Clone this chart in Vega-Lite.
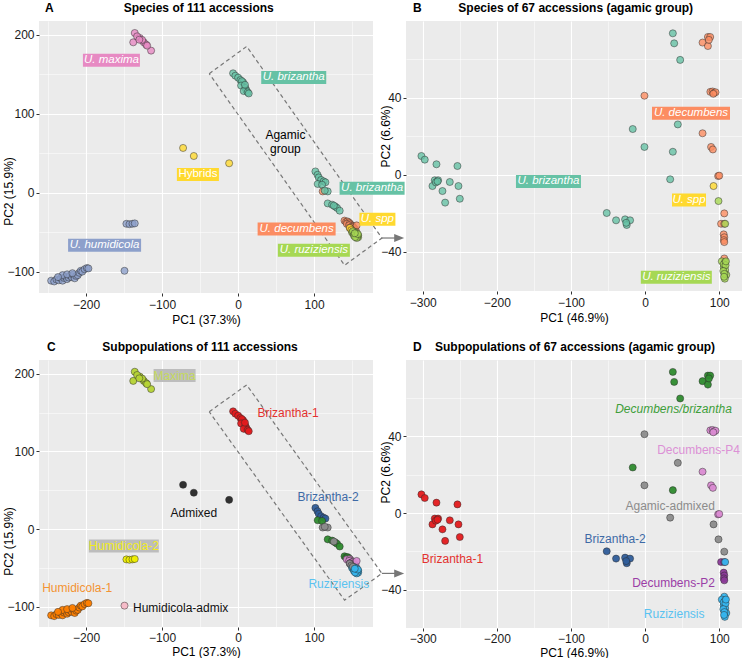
{
  "$schema": "https://vega.github.io/schema/vega-lite/v6.json",
  "padding": {"left": 2, "top": 2, "right": 0, "bottom": 0},
  "bounds": "flush",
  "columns": 2,
  "spacing": {"row": 67, "column": 33},
  "config": {
    "font": "Liberation Sans",
    "view": {"fill": "#EBEBEB", "stroke": null},
    "axis": {"domain": false, "tickColor": "#333333", "tickSize": 3, "tickWidth": 1, "gridColor": "#FFFFFF", "labelFontSize": 12, "labelColor": "#1a1a1a", "titleFontSize": 12, "titleFontWeight": "normal", "titleColor": "#000000", "labelFont": "Liberation Sans", "titleFont": "Liberation Sans", "labelOverlap": false, "labelFlush": false},
    "title": {"fontSize": 12, "fontWeight": "bold", "font": "Liberation Sans", "anchor": "start", "frame": "group", "offset": 6, "color": "#000000"},
    "text": {"font": "Liberation Sans"}
  },
  "datasets": {
    "full": [
      {"x": -136, "y": 202.5, "sp": "U. maxima", "sub": "Maxima"},
      {"x": -138, "y": 190.7, "sp": "U. maxima", "sub": "Maxima"},
      {"x": -129.4, "y": 196.2, "sp": "U. maxima", "sub": "Maxima"},
      {"x": -124.1, "y": 190.7, "sp": "U. maxima", "sub": "Maxima"},
      {"x": -121, "y": 187.8, "sp": "U. maxima", "sub": "Maxima"},
      {"x": -114.5, "y": 180.2, "sp": "U. maxima", "sub": "Maxima"},
      {"x": -132.9, "y": 198.3, "sp": "U. maxima", "sub": "Maxima"},
      {"x": -126.3, "y": 193.7, "sp": "U. maxima", "sub": "Maxima"},
      {"x": -119.7, "y": 186.5, "sp": "U. maxima", "sub": "Maxima"},
      {"x": -130, "y": 194, "sp": "U. maxima", "sub": "Maxima"},
      {"x": -246, "y": -111, "sp": "U. humidicola", "sub": "Humidicola-1"},
      {"x": -242, "y": -112, "sp": "U. humidicola", "sub": "Humidicola-1"},
      {"x": -239, "y": -109.5, "sp": "U. humidicola", "sub": "Humidicola-1"},
      {"x": -236, "y": -110.5, "sp": "U. humidicola", "sub": "Humidicola-1"},
      {"x": -233, "y": -108, "sp": "U. humidicola", "sub": "Humidicola-1"},
      {"x": -231, "y": -111, "sp": "U. humidicola", "sub": "Humidicola-1"},
      {"x": -229, "y": -107.5, "sp": "U. humidicola", "sub": "Humidicola-1"},
      {"x": -227, "y": -106, "sp": "U. humidicola", "sub": "Humidicola-1"},
      {"x": -225, "y": -109, "sp": "U. humidicola", "sub": "Humidicola-1"},
      {"x": -223, "y": -107, "sp": "U. humidicola", "sub": "Humidicola-1"},
      {"x": -221, "y": -104.5, "sp": "U. humidicola", "sub": "Humidicola-1"},
      {"x": -219, "y": -106.5, "sp": "U. humidicola", "sub": "Humidicola-1"},
      {"x": -217, "y": -103.5, "sp": "U. humidicola", "sub": "Humidicola-1"},
      {"x": -215, "y": -108, "sp": "U. humidicola", "sub": "Humidicola-1"},
      {"x": -213, "y": -105, "sp": "U. humidicola", "sub": "Humidicola-1"},
      {"x": -211, "y": -104, "sp": "U. humidicola", "sub": "Humidicola-1"},
      {"x": -209, "y": -101, "sp": "U. humidicola", "sub": "Humidicola-1"},
      {"x": -207, "y": -98.5, "sp": "U. humidicola", "sub": "Humidicola-1"},
      {"x": -205, "y": -99.5, "sp": "U. humidicola", "sub": "Humidicola-1"},
      {"x": -202, "y": -96.5, "sp": "U. humidicola", "sub": "Humidicola-1"},
      {"x": -199, "y": -95, "sp": "U. humidicola", "sub": "Humidicola-1"},
      {"x": -197, "y": -95.5, "sp": "U. humidicola", "sub": "Humidicola-1"},
      {"x": -231, "y": -104, "sp": "U. humidicola", "sub": "Humidicola-1"},
      {"x": -237, "y": -106.5, "sp": "U. humidicola", "sub": "Humidicola-1"},
      {"x": -225, "y": -103, "sp": "U. humidicola", "sub": "Humidicola-1"},
      {"x": -218, "y": -101.5, "sp": "U. humidicola", "sub": "Humidicola-1"},
      {"x": -147, "y": -39, "sp": "U. humidicola", "sub": "Humidicola-2"},
      {"x": -143, "y": -39.5, "sp": "U. humidicola", "sub": "Humidicola-2"},
      {"x": -139, "y": -39, "sp": "U. humidicola", "sub": "Humidicola-2"},
      {"x": -136, "y": -38.5, "sp": "U. humidicola", "sub": "Humidicola-2"},
      {"x": -149.5, "y": -98.5, "sp": "U. humidicola", "sub": "Humidicola-admix"},
      {"x": -72.4, "y": 57, "sp": "Hybrids", "sub": "Admixed"},
      {"x": -58.3, "y": 46.8, "sp": "Hybrids", "sub": "Admixed"},
      {"x": -11.8, "y": 37.6, "sp": "Hybrids", "sub": "Admixed"},
      {"x": -6.6, "y": 151.5, "sp": "U. brizantha", "sub": "Brizantha-1"},
      {"x": -3.6, "y": 148.5, "sp": "U. brizantha", "sub": "Brizantha-1"},
      {"x": 0, "y": 146, "sp": "U. brizantha", "sub": "Brizantha-1"},
      {"x": 3, "y": 143, "sp": "U. brizantha", "sub": "Brizantha-1"},
      {"x": 6.6, "y": 140, "sp": "U. brizantha", "sub": "Brizantha-1"},
      {"x": 5, "y": 141.5, "sp": "U. brizantha", "sub": "Brizantha-1"},
      {"x": 3.9, "y": 136, "sp": "U. brizantha", "sub": "Brizantha-1"},
      {"x": 9.6, "y": 133, "sp": "U. brizantha", "sub": "Brizantha-1"},
      {"x": 10.9, "y": 130, "sp": "U. brizantha", "sub": "Brizantha-1"},
      {"x": 7.4, "y": 129, "sp": "U. brizantha", "sub": "Brizantha-1"},
      {"x": 12.6, "y": 127.5, "sp": "U. brizantha", "sub": "Brizantha-1"},
      {"x": 14, "y": 126, "sp": "U. brizantha", "sub": "Brizantha-1"},
      {"x": 9, "y": 137, "sp": "U. brizantha", "sub": "Brizantha-1"},
      {"x": 101.7, "y": 27.3, "sp": "U. brizantha", "sub": "Brizantha-2"},
      {"x": 104.5, "y": 23, "sp": "U. brizantha", "sub": "Brizantha-2"},
      {"x": 106.1, "y": 19.7, "sp": "U. brizantha", "sub": "Brizantha-2"},
      {"x": 109.2, "y": 16.5, "sp": "U. brizantha", "sub": "Brizantha-2"},
      {"x": 112.6, "y": 14.7, "sp": "U. brizantha", "sub": "Brizantha-2"},
      {"x": 114.9, "y": 13.5, "sp": "U. brizantha", "sub": "Brizantha-2"},
      {"x": 104.7, "y": 11.4, "sp": "U. brizantha", "sub": "Decumbens/brizantha"},
      {"x": 110.5, "y": 10.5, "sp": "U. brizantha", "sub": "Decumbens/brizantha"},
      {"x": 111.3, "y": 2, "sp": "U. decumbens", "sub": "Agamic-admixed"},
      {"x": 117.9, "y": 2, "sp": "U. brizantha", "sub": "Agamic-admixed"},
      {"x": 114, "y": 3, "sp": "U. brizantha", "sub": "Agamic-admixed"},
      {"x": 117.9, "y": -13.2, "sp": "U. brizantha", "sub": "Decumbens/brizantha"},
      {"x": 123.7, "y": -14.8, "sp": "U. brizantha", "sub": "Decumbens/brizantha"},
      {"x": 128, "y": -17.3, "sp": "U. brizantha", "sub": "Decumbens/brizantha"},
      {"x": 130.3, "y": -19, "sp": "U. brizantha", "sub": "Decumbens/brizantha"},
      {"x": 133.7, "y": -22.4, "sp": "U. brizantha", "sub": "Decumbens/brizantha"},
      {"x": 126, "y": -16, "sp": "U. brizantha", "sub": "Agamic-admixed"},
      {"x": 140, "y": -35, "sp": "U. decumbens", "sub": "Decumbens/brizantha"},
      {"x": 142, "y": -36.5, "sp": "U. decumbens", "sub": "Decumbens/brizantha"},
      {"x": 144, "y": -36, "sp": "U. decumbens", "sub": "Decumbens/brizantha"},
      {"x": 145.6, "y": -37.2, "sp": "U. decumbens", "sub": "Decumbens/brizantha"},
      {"x": 143, "y": -39, "sp": "U. decumbens", "sub": "Decumbens-P4"},
      {"x": 147, "y": -38.5, "sp": "U. decumbens", "sub": "Decumbens-P4"},
      {"x": 148, "y": -40, "sp": "U. decumbens", "sub": "Decumbens-P4"},
      {"x": 150, "y": -41.4, "sp": "U. decumbens", "sub": "Agamic-admixed"},
      {"x": 146, "y": -41, "sp": "U. decumbens", "sub": "Decumbens-P4"},
      {"x": 151, "y": -42.5, "sp": "U. decumbens", "sub": "Decumbens-P4"},
      {"x": 152, "y": -44, "sp": "U. decumbens", "sub": "Decumbens-P4"},
      {"x": 149, "y": -43, "sp": "U. decumbens", "sub": "Decumbens-P4"},
      {"x": 153, "y": -45, "sp": "U. decumbens", "sub": "Decumbens-P2"},
      {"x": 154, "y": -46.5, "sp": "U. decumbens", "sub": "Decumbens-P2"},
      {"x": 150, "y": -46, "sp": "U. decumbens", "sub": "Decumbens-P2"},
      {"x": 147, "y": -44, "sp": "U. decumbens", "sub": "Decumbens-P2"},
      {"x": 155, "y": -48, "sp": "U. decumbens", "sub": "Decumbens-P4"},
      {"x": 152, "y": -48, "sp": "U. decumbens", "sub": "Decumbens-P2"},
      {"x": 156, "y": -41, "sp": "U. decumbens", "sub": "Decumbens-P4"},
      {"x": 146.9, "y": -44.3, "sp": "U. spp", "sub": "Agamic-admixed"},
      {"x": 149, "y": -47, "sp": "U. spp", "sub": "Agamic-admixed"},
      {"x": 150, "y": -50, "sp": "U. ruziziensis", "sub": "Ruziziensis"},
      {"x": 152, "y": -51.9, "sp": "U. ruziziensis", "sub": "Ruziziensis"},
      {"x": 154, "y": -53, "sp": "U. ruziziensis", "sub": "Ruziziensis"},
      {"x": 156.6, "y": -55.3, "sp": "U. ruziziensis", "sub": "Ruziziensis"},
      {"x": 155, "y": -52, "sp": "U. ruziziensis", "sub": "Ruziziensis"},
      {"x": 158, "y": -56, "sp": "U. ruziziensis", "sub": "Ruziziensis"},
      {"x": 153, "y": -49, "sp": "U. ruziziensis", "sub": "Ruziziensis"},
      {"x": 157, "y": -54, "sp": "U. ruziziensis", "sub": "Ruziziensis"},
      {"x": 151, "y": -48.5, "sp": "U. ruziziensis", "sub": "Agamic-admixed"},
      {"x": 155.5, "y": -50.5, "sp": "U. ruziziensis", "sub": "Ruziziensis"},
      {"x": 158, "y": -53.5, "sp": "U. ruziziensis", "sub": "Ruziziensis"},
      {"x": 152.5, "y": -54, "sp": "U. ruziziensis", "sub": "Ruziziensis"},
      {"x": 156, "y": -57, "sp": "U. ruziziensis", "sub": "Ruziziensis"},
      {"x": 154, "y": -55.8, "sp": "U. ruziziensis", "sub": "Ruziziensis"},
      {"x": 157.5, "y": -52, "sp": "U. ruziziensis", "sub": "Ruziziensis"},
      {"x": 153.5, "y": -51, "sp": "U. ruziziensis", "sub": "Ruziziensis"}
    ],
    "agamic": [
      {"x": -301.8, "y": 9.7, "sp": "U. brizantha", "sub": "Brizantha-1"},
      {"x": -297.3, "y": 7.8, "sp": "U. brizantha", "sub": "Brizantha-1"},
      {"x": -281.5, "y": 5.4, "sp": "U. brizantha", "sub": "Brizantha-1"},
      {"x": -253.2, "y": 4.5, "sp": "U. brizantha", "sub": "Brizantha-1"},
      {"x": -283.8, "y": -2.9, "sp": "U. brizantha", "sub": "Brizantha-1"},
      {"x": -279.3, "y": -2.9, "sp": "U. brizantha", "sub": "Brizantha-1"},
      {"x": -286.9, "y": -5.9, "sp": "U. brizantha", "sub": "Brizantha-1"},
      {"x": -263.5, "y": -3.8, "sp": "U. brizantha", "sub": "Brizantha-1"},
      {"x": -251.8, "y": -5.9, "sp": "U. brizantha", "sub": "Brizantha-1"},
      {"x": -273.4, "y": -8.5, "sp": "U. brizantha", "sub": "Brizantha-1"},
      {"x": -269.8, "y": -14.5, "sp": "U. brizantha", "sub": "Brizantha-1"},
      {"x": -250, "y": -12.5, "sp": "U. brizantha", "sub": "Brizantha-1"},
      {"x": -282.4, "y": -4, "sp": "U. brizantha", "sub": "Brizantha-1"},
      {"x": -280, "y": -3.5, "sp": "U. brizantha", "sub": "Brizantha-1"},
      {"x": -51.8, "y": -19.9, "sp": "U. brizantha", "sub": "Brizantha-2"},
      {"x": -39.2, "y": -23.7, "sp": "U. brizantha", "sub": "Brizantha-2"},
      {"x": -27, "y": -23.2, "sp": "U. brizantha", "sub": "Brizantha-2"},
      {"x": -20.3, "y": -23.7, "sp": "U. brizantha", "sub": "Brizantha-2"},
      {"x": -24.8, "y": -26.1, "sp": "U. brizantha", "sub": "Brizantha-2"},
      {"x": -25.5, "y": -25, "sp": "U. brizantha", "sub": "Brizantha-2"},
      {"x": 37.4, "y": 73.4, "sp": "U. brizantha", "sub": "Decumbens/brizantha"},
      {"x": 39.2, "y": 68.2, "sp": "U. brizantha", "sub": "Decumbens/brizantha"},
      {"x": 47.3, "y": 59.6, "sp": "U. brizantha", "sub": "Decumbens/brizantha"},
      {"x": -16.7, "y": 23.7, "sp": "U. brizantha", "sub": "Decumbens/brizantha"},
      {"x": 37.4, "y": 11.9, "sp": "U. brizantha", "sub": "Decumbens/brizantha"},
      {"x": 84.7, "y": 71.5, "sp": "U. decumbens", "sub": "Decumbens/brizantha"},
      {"x": 87.8, "y": 71.5, "sp": "U. decumbens", "sub": "Decumbens/brizantha"},
      {"x": 77.5, "y": 68.6, "sp": "U. decumbens", "sub": "Decumbens/brizantha"},
      {"x": 84.7, "y": 66.8, "sp": "U. decumbens", "sub": "Decumbens/brizantha"},
      {"x": 86, "y": 70, "sp": "U. decumbens", "sub": "Decumbens/brizantha"},
      {"x": -0.9, "y": 14.4, "sp": "U. brizantha", "sub": "Agamic-admixed"},
      {"x": 44.1, "y": 26.1, "sp": "U. brizantha", "sub": "Agamic-admixed"},
      {"x": 33.8, "y": -2.4, "sp": "U. brizantha", "sub": "Agamic-admixed"},
      {"x": -0.9, "y": 41, "sp": "U. decumbens", "sub": "Agamic-admixed"},
      {"x": 106.8, "y": -20.1, "sp": "U. decumbens", "sub": "Agamic-admixed"},
      {"x": 92.3, "y": -5.9, "sp": "U. spp", "sub": "Agamic-admixed"},
      {"x": 99, "y": -13.7, "sp": "U. ruziziensis", "sub": "Agamic-admixed"},
      {"x": 88, "y": 43, "sp": "U. decumbens", "sub": "Decumbens-P4"},
      {"x": 91, "y": 43.2, "sp": "U. decumbens", "sub": "Decumbens-P4"},
      {"x": 93, "y": 42.5, "sp": "U. decumbens", "sub": "Decumbens-P4"},
      {"x": 95, "y": 42.8, "sp": "U. decumbens", "sub": "Decumbens-P4"},
      {"x": 92, "y": 42, "sp": "U. decumbens", "sub": "Decumbens-P4"},
      {"x": 77.5, "y": 21.5, "sp": "U. decumbens", "sub": "Decumbens-P4"},
      {"x": 89, "y": 14.4, "sp": "U. decumbens", "sub": "Decumbens-P4"},
      {"x": 91.4, "y": 13.1, "sp": "U. decumbens", "sub": "Decumbens-P4"},
      {"x": 98.5, "y": -0.7, "sp": "U. decumbens", "sub": "Decumbens-P4"},
      {"x": 100, "y": -0.5, "sp": "U. decumbens", "sub": "Decumbens-P4"},
      {"x": 102.5, "y": -25.5, "sp": "U. decumbens", "sub": "Decumbens-P2"},
      {"x": 106.8, "y": -25.5, "sp": "U. decumbens", "sub": "Decumbens-P2"},
      {"x": 106, "y": -31, "sp": "U. decumbens", "sub": "Decumbens-P2"},
      {"x": 106.8, "y": -32.5, "sp": "U. decumbens", "sub": "Decumbens-P2"},
      {"x": 106.2, "y": -34, "sp": "U. decumbens", "sub": "Decumbens-P2"},
      {"x": 106.8, "y": -35, "sp": "U. decumbens", "sub": "Decumbens-P2"},
      {"x": 106.8, "y": -43.5, "sp": "U. decumbens", "sub": "Ruziziensis"},
      {"x": 108, "y": -25.5, "sp": "U. ruziziensis", "sub": "Ruziziensis"},
      {"x": 103.5, "y": -45, "sp": "U. ruziziensis", "sub": "Ruziziensis"},
      {"x": 108, "y": -45.5, "sp": "U. ruziziensis", "sub": "Ruziziensis"},
      {"x": 106, "y": -48, "sp": "U. ruziziensis", "sub": "Ruziziensis"},
      {"x": 108, "y": -49.5, "sp": "U. ruziziensis", "sub": "Ruziziensis"},
      {"x": 109.5, "y": -52, "sp": "U. ruziziensis", "sub": "Ruziziensis"},
      {"x": 107.5, "y": -54, "sp": "U. ruziziensis", "sub": "Ruziziensis"},
      {"x": 106, "y": -46.5, "sp": "U. ruziziensis", "sub": "Ruziziensis"},
      {"x": 108.5, "y": -47, "sp": "U. ruziziensis", "sub": "Ruziziensis"},
      {"x": 105.5, "y": -50, "sp": "U. ruziziensis", "sub": "Ruziziensis"},
      {"x": 107, "y": -51.5, "sp": "U. ruziziensis", "sub": "Ruziziensis"},
      {"x": 109, "y": -45, "sp": "U. ruziziensis", "sub": "Ruziziensis"},
      {"x": 106.5, "y": -53, "sp": "U. ruziziensis", "sub": "Ruziziensis"}
    ],
    "box": [
      {"o": 1, "x": -38, "y": 151},
      {"o": 2, "x": 11.3, "y": 185.5},
      {"o": 3, "x": 189.2, "y": -57},
      {"o": 4, "x": 140.1, "y": -91.5},
      {"o": 5, "x": -38, "y": 151}
    ],
    "arrow": [{"x": 189.2, "y": -57}, {"x": 208, "y": -57}],
    "arrowhead": [{"x": 212, "y": -57}],
    "labA": [
      {"x": -166.7, "y": 168.1, "label": "U. maxima"},
      {"x": 73.2, "y": 146.3, "label": "U. brizantha"},
      {"x": -52.9, "y": 23.5, "label": "Hybrids"},
      {"x": -175.7, "y": -66.1, "label": "U. humidicola"},
      {"x": 77, "y": -45.6, "label": "U. decumbens"},
      {"x": 99.7, "y": -72.4, "label": "U. ruziziensis"},
      {"x": 176.3, "y": 6.1, "label": "U. brizantha"},
      {"x": 183.3, "y": -33.4, "label": "U. spp"}
    ],
    "agamicText": [{"x": 62.2, "y": 73, "label": "Agamic\ngroup"}],
    "labB": [
      {"x": 61.9, "y": 31.9, "label": "U. decumbens"},
      {"x": -130.4, "y": -3.5, "label": "U. brizantha"},
      {"x": 59.2, "y": -13.1, "label": "U. spp"},
      {"x": 42.1, "y": -53.2, "label": "U. ruziziensis"}
    ],
    "labC": [
      {"x": -83.6, "y": 197.6, "label": "Maxima"},
      {"x": 65.8, "y": 149.8, "label": "Brizantha-1"},
      {"x": 118.4, "y": 41.2, "label": "Brizantha-2"},
      {"x": -58.3, "y": 20.2, "label": "Admixed"},
      {"x": -150.4, "y": -21.9, "label": "Humidicola-2"},
      {"x": -211.8, "y": -75.5, "label": "Humidicola-1"},
      {"x": -75.6, "y": -101.3, "label": "Humidicola-admix"},
      {"x": 132.5, "y": -71.2, "label": "Ruziziensis"}
    ],
    "labD": [
      {"x": 38.3, "y": 53.9, "label": "Decumbens/brizantha"},
      {"x": 72.1, "y": 32.6, "label": "Decumbens-P4"},
      {"x": 33.8, "y": 3.5, "label": "Agamic-admixed"},
      {"x": -40.5, "y": -13.5, "label": "Brizantha-2"},
      {"x": -259.9, "y": -23.8, "label": "Brizantha-1"},
      {"x": 38.3, "y": -36.4, "label": "Decumbens-P2"},
      {"x": 39.2, "y": -52.3, "label": "Ruziziensis"}
    ]
  },
  "concat": [
    {
      "width": 334,
      "height": 272,
      "title": {"text": "A\u00a0\u00a0\u00a0\u00a0\u00a0\u00a0\u00a0\u00a0\u00a0\u00a0\u00a0\u00a0\u00a0\u00a0\u00a0\u00a0\u00a0\u00a0\u00a0\u00a0\u00a0Species of 111 accessions", "dx": 6},
      "encoding": {
        "x": {"field": "x", "type": "quantitative", "scale": {"domain": [-262, 177.5], "nice": false, "zero": false},
          "axis": {"title": "PC1 (37.3%)", "values": [-250, -200, -150, -100, -50, 0, 50, 100, 150], "labelExpr": "datum.value % 100 === 0 ? datum.label : ''", "gridWidth": {"condition": {"test": "datum.value % 100 !== 0", "value": 0.5}, "value": 1.1}, "tickOpacity": {"condition": {"test": "datum.value % 100 !== 0", "value": 0}, "value": 1}, "labelPadding": 3, "titlePadding": 4}},
        "y": {"field": "y", "type": "quantitative", "scale": {"domain": [-126.6, 217.7], "nice": false, "zero": false},
          "axis": {"title": "PC2 (15.9%)", "values": [-100, -50, 0, 50, 100, 150, 200], "labelExpr": "datum.value % 100 === 0 ? datum.label : ''", "gridWidth": {"condition": {"test": "datum.value % 100 !== 0", "value": 0.5}, "value": 1.1}, "tickOpacity": {"condition": {"test": "datum.value % 100 !== 0", "value": 0}, "value": 1}, "labelPadding": 2, "titleX": -30.5, "titleY": 170, "titleBaseline": "middle"}}
      },
      "layer": [
        {"data": {"name": "full"}, "mark": {"type": "circle", "size": 50, "fillOpacity": 0.8, "stroke": "#2b2b2b", "strokeWidth": 0.6, "strokeOpacity": 0.8},
          "encoding": {"color": {"field": "sp", "type": "nominal", "legend": null, "scale": {"domain": ["U. brizantha", "U. decumbens", "U. humidicola", "U. maxima", "U. ruziziensis", "U. spp", "Hybrids"], "range": ["#66C2A5", "#FC8D62", "#8DA0CB", "#E78AC3", "#A6D854", "#FFD92F", "#FFD92F"]}}}},
        {"data": {"name": "box"}, "mark": {"type": "line", "stroke": "#777777", "strokeWidth": 1.2, "strokeDash": [4, 3]}, "encoding": {"order": {"field": "o", "type": "quantitative"}}},
        {"data": {"name": "arrow"}, "mark": {"type": "line", "stroke": "#777777", "strokeWidth": 1.2}, "encoding": {}},
        {"data": {"name": "arrowhead"}, "mark": {"type": "point", "shape": "M-1,-0.8L1,0L-1,0.8Z", "size": 100, "filled": true, "color": "#777777", "opacity": 1}},
        {"data": {"name": "labA"}, "mark": {"type": "point", "filled": true, "size": 4, "opacity": 1, "strokeWidth": 0},
          "encoding": {
            "shape": {"field": "label", "type": "nominal", "legend": null, "scale": {"domain": ["U. maxima", "U. brizantha", "Hybrids", "U. humidicola", "U. decumbens", "U. ruziziensis", "U. spp"], "range": ["M-28.5,-6.5H28.5V6.5H-28.5Z", "M-32.5,-6.5H32.5V6.5H-32.5Z", "M-21,-6.5H21V6.5H-21Z", "M-36.5,-6.5H36.5V6.5H-36.5Z", "M-39,-6.5H39V6.5H-39Z", "M-36,-6.5H36V6.5H-36Z", "M-18,-6.5H18V6.5H-18Z"]}},
            "color": {"field": "label", "type": "nominal", "legend": null, "scale": {"domain": ["U. maxima", "U. brizantha", "Hybrids", "U. humidicola", "U. decumbens", "U. ruziziensis", "U. spp"], "range": ["#E78AC3", "#66C2A5", "#FFD92F", "#8DA0CB", "#FC8D62", "#A6D854", "#FFD92F"]}}
          }},
        {"data": {"name": "labA"}, "transform": [{"filter": "datum.label !== 'Hybrids'"}], "mark": {"type": "text", "fontStyle": "italic", "fontSize": 11.5, "color": "#FFFFFF", "baseline": "middle", "align": "center"}, "encoding": {"text": {"field": "label"}}},
        {"data": {"name": "labA"}, "transform": [{"filter": "datum.label === 'Hybrids'"}], "mark": {"type": "text", "fontSize": 11.5, "color": "#FFFFFF", "baseline": "middle", "align": "center"}, "encoding": {"text": {"field": "label"}}},
        {"data": {"name": "agamicText"}, "mark": {"type": "text", "fontSize": 12, "color": "#000000", "baseline": "middle", "align": "center", "lineBreak": "\n", "lineHeight": 14}, "encoding": {"text": {"field": "label"}}}
      ],
      "resolve": {"scale": {"color": "independent", "shape": "independent"}}
    },
    {
      "width": 336,
      "height": 270,
      "title": {"text": "B\u00a0\u00a0\u00a0\u00a0\u00a0\u00a0\u00a0\u00a0\u00a0\u00a0\u00a0Species of 67 accessions (agamic group)", "dx": 7},
      "encoding": {
        "x": {"field": "x", "type": "quantitative", "scale": {"domain": [-322.6, 130.7], "nice": false, "zero": false},
          "axis": {"title": "PC1 (46.9%)", "values": [-300, -250, -200, -150, -100, -50, 0, 50, 100], "labelExpr": "datum.value % 100 === 0 ? datum.label : ''", "gridWidth": {"condition": {"test": "datum.value % 100 !== 0", "value": 0.5}, "value": 1.1}, "tickOpacity": {"condition": {"test": "datum.value % 100 !== 0", "value": 0}, "value": 1}, "labelPadding": 3, "titlePadding": 4}},
        "y": {"field": "y", "type": "quantitative", "scale": {"domain": [-60.4, 79.8], "nice": false, "zero": false},
          "axis": {"title": "PC2 (6.6%)", "values": [-40, -20, 0, 20, 40, 60], "labelExpr": "datum.value % 40 === 0 ? datum.label : ''", "gridWidth": {"condition": {"test": "datum.value % 40 !== 0", "value": 0.5}, "value": 1.1}, "tickOpacity": {"condition": {"test": "datum.value % 40 !== 0", "value": 0}, "value": 1}, "labelPadding": 2, "titleX": -20.5, "titleY": 115, "titleBaseline": "middle"}}
      },
      "layer": [
        {"data": {"name": "agamic"}, "mark": {"type": "circle", "size": 50, "fillOpacity": 0.8, "stroke": "#2b2b2b", "strokeWidth": 0.6, "strokeOpacity": 0.8},
          "encoding": {"color": {"field": "sp", "type": "nominal", "legend": null, "scale": {"domain": ["U. brizantha", "U. decumbens", "U. ruziziensis", "U. spp"], "range": ["#66C2A5", "#FC8D62", "#A6D854", "#FFD92F"]}}}},
        {"data": {"name": "labB"}, "mark": {"type": "point", "filled": true, "size": 4, "opacity": 1, "strokeWidth": 0},
          "encoding": {
            "shape": {"field": "label", "type": "nominal", "legend": null, "scale": {"domain": ["U. brizantha", "U. decumbens", "U. ruziziensis", "U. spp"], "range": ["M-32.5,-6.5H32.5V6.5H-32.5Z", "M-39,-6.5H39V6.5H-39Z", "M-35.5,-6.5H35.5V6.5H-35.5Z", "M-17,-6.5H17V6.5H-17Z"]}},
            "color": {"field": "label", "type": "nominal", "legend": null, "scale": {"domain": ["U. brizantha", "U. decumbens", "U. ruziziensis", "U. spp"], "range": ["#66C2A5", "#FC8D62", "#A6D854", "#FFD92F"]}}
          }},
        {"data": {"name": "labB"}, "mark": {"type": "text", "fontStyle": "italic", "fontSize": 11.5, "color": "#FFFFFF", "baseline": "middle", "align": "center"}, "encoding": {"text": {"field": "label"}}}
      ],
      "resolve": {"scale": {"color": "independent", "shape": "independent"}}
    },
    {
      "width": 334,
      "height": 267,
      "title": {"text": "C\u00a0\u00a0\u00a0\u00a0\u00a0\u00a0\u00a0\u00a0\u00a0\u00a0\u00a0\u00a0\u00a0\u00a0Subpopulations of 111 accessions", "dx": 8},
      "encoding": {
        "x": {"field": "x", "type": "quantitative", "scale": {"domain": [-262, 177.5], "nice": false, "zero": false},
          "axis": {"title": "PC1 (37.3%)", "values": [-250, -200, -150, -100, -50, 0, 50, 100, 150], "labelExpr": "datum.value % 100 === 0 ? datum.label : ''", "gridWidth": {"condition": {"test": "datum.value % 100 !== 0", "value": 0.5}, "value": 1.1}, "tickOpacity": {"condition": {"test": "datum.value % 100 !== 0", "value": 0}, "value": 1}, "labelPadding": 2, "titlePadding": 3}},
        "y": {"field": "y", "type": "quantitative", "scale": {"domain": [-126, 217.6], "nice": false, "zero": false},
          "axis": {"title": "PC2 (15.9%)", "values": [-100, -50, 0, 50, 100, 150, 200], "labelExpr": "datum.value % 100 === 0 ? datum.label : ''", "gridWidth": {"condition": {"test": "datum.value % 100 !== 0", "value": 0.5}, "value": 1.1}, "tickOpacity": {"condition": {"test": "datum.value % 100 !== 0", "value": 0}, "value": 1}, "labelPadding": 2, "titleX": -30.5, "titleY": 181, "titleBaseline": "middle"}}
      },
      "layer": [
        {"data": {"name": "full"}, "mark": {"type": "circle", "size": 50, "fillOpacity": 0.95, "stroke": "#2b2b2b", "strokeWidth": 0.6, "strokeOpacity": 0.8},
          "encoding": {"color": {"field": "sub", "type": "nominal", "legend": null, "scale": {"domain": ["Brizantha-1", "Brizantha-2", "Decumbens/brizantha", "Agamic-admixed", "Decumbens-P4", "Decumbens-P2", "Ruziziensis", "Maxima", "Humidicola-1", "Humidicola-2", "Humidicola-admix", "Admixed"], "range": ["#E41A1C", "#2F5D9A", "#2E8B2E", "#8C8C8C", "#DA8BD2", "#8B3A98", "#36B5EE", "#B5D334", "#FF8000", "#EEEE00", "#F6B8C6", "#262626"]}}}},
        {"data": {"name": "box"}, "mark": {"type": "line", "stroke": "#777777", "strokeWidth": 1.2, "strokeDash": [4, 3]}, "encoding": {"order": {"field": "o", "type": "quantitative"}}},
        {"data": {"name": "arrow"}, "mark": {"type": "line", "stroke": "#777777", "strokeWidth": 1.2}, "encoding": {}},
        {"data": {"name": "arrowhead"}, "mark": {"type": "point", "shape": "M-1,-0.8L1,0L-1,0.8Z", "size": 100, "filled": true, "color": "#777777", "opacity": 1}},
        {"data": {"name": "labC"}, "transform": [{"filter": "datum.label === 'Maxima' || datum.label === 'Humidicola-2'"}], "mark": {"type": "point", "filled": true, "size": 4, "opacity": 1, "strokeWidth": 0, "color": "#BDBDBD"},
          "encoding": {"shape": {"field": "label", "type": "nominal", "legend": null, "scale": {"domain": ["Maxima", "Humidicola-2"], "range": ["M-21,-6.5H21V6.5H-21Z", "M-35,-6.5H35V6.5H-35Z"]}}}},
        {"data": {"name": "labC"}, "mark": {"type": "text", "fontSize": 12, "baseline": "middle", "align": "center"},
          "encoding": {"text": {"field": "label"}, "color": {"field": "label", "type": "nominal", "legend": null, "scale": {"domain": ["Maxima", "Brizantha-1", "Brizantha-2", "Admixed", "Humidicola-2", "Humidicola-1", "Humidicola-admix", "Ruziziensis"], "range": ["#C6DA5E", "#E3312E", "#3E6AA6", "#111111", "#F2EC1E", "#F39332", "#111111", "#5AC2F0"]}}}}
      ],
      "resolve": {"scale": {"color": "independent", "shape": "independent"}}
    },
    {
      "width": 336,
      "height": 268,
      "title": {"text": "D\u00a0\u00a0\u00a0\u00a0Subpopulations of 67 accessions (agamic group)", "dx": 7},
      "encoding": {
        "x": {"field": "x", "type": "quantitative", "scale": {"domain": [-322.6, 130.7], "nice": false, "zero": false},
          "axis": {"title": "PC1 (46.9%)", "values": [-300, -250, -200, -150, -100, -50, 0, 50, 100], "labelExpr": "datum.value % 100 === 0 ? datum.label : ''", "gridWidth": {"condition": {"test": "datum.value % 100 !== 0", "value": 0.5}, "value": 1.1}, "tickOpacity": {"condition": {"test": "datum.value % 100 !== 0", "value": 0}, "value": 1}, "labelPadding": 2, "titlePadding": 3}},
        "y": {"field": "y", "type": "quantitative", "scale": {"domain": [-59.8, 79.6], "nice": false, "zero": false},
          "axis": {"title": "PC2 (6.6%)", "values": [-40, -20, 0, 20, 40, 60], "labelExpr": "datum.value % 40 === 0 ? datum.label : ''", "gridWidth": {"condition": {"test": "datum.value % 40 !== 0", "value": 0.5}, "value": 1.1}, "tickOpacity": {"condition": {"test": "datum.value % 40 !== 0", "value": 0}, "value": 1}, "labelPadding": 2, "titleX": -20.5, "titleY": 112, "titleBaseline": "middle"}}
      },
      "layer": [
        {"data": {"name": "agamic"}, "mark": {"type": "circle", "size": 50, "fillOpacity": 0.95, "stroke": "#2b2b2b", "strokeWidth": 0.6, "strokeOpacity": 0.8},
          "encoding": {"color": {"field": "sub", "type": "nominal", "legend": null, "scale": {"domain": ["Brizantha-1", "Brizantha-2", "Decumbens/brizantha", "Agamic-admixed", "Decumbens-P4", "Decumbens-P2", "Ruziziensis"], "range": ["#E41A1C", "#2F5D9A", "#2E8B2E", "#8C8C8C", "#DA8BD2", "#8B3A98", "#36B5EE"]}}}},
        {"data": {"name": "labD"}, "transform": [{"filter": "datum.label !== 'Decumbens/brizantha'"}], "mark": {"type": "text", "fontSize": 12, "baseline": "middle", "align": "center"},
          "encoding": {"text": {"field": "label"}, "color": {"field": "label", "type": "nominal", "legend": null, "scale": {"domain": ["Decumbens-P4", "Agamic-admixed", "Brizantha-2", "Brizantha-1", "Decumbens-P2", "Ruziziensis"], "range": ["#DC91D6", "#8C8C8C", "#3E6AA6", "#E3312E", "#9A3DA6", "#5AC2F0"]}}}},
        {"data": {"name": "labD"}, "transform": [{"filter": "datum.label === 'Decumbens/brizantha'"}], "mark": {"type": "text", "fontSize": 12, "fontStyle": "italic", "baseline": "middle", "align": "center", "color": "#3E9E3A"},
          "encoding": {"text": {"field": "label"}}}
      ],
      "resolve": {"scale": {"color": "independent"}}
    }
  ]
}
